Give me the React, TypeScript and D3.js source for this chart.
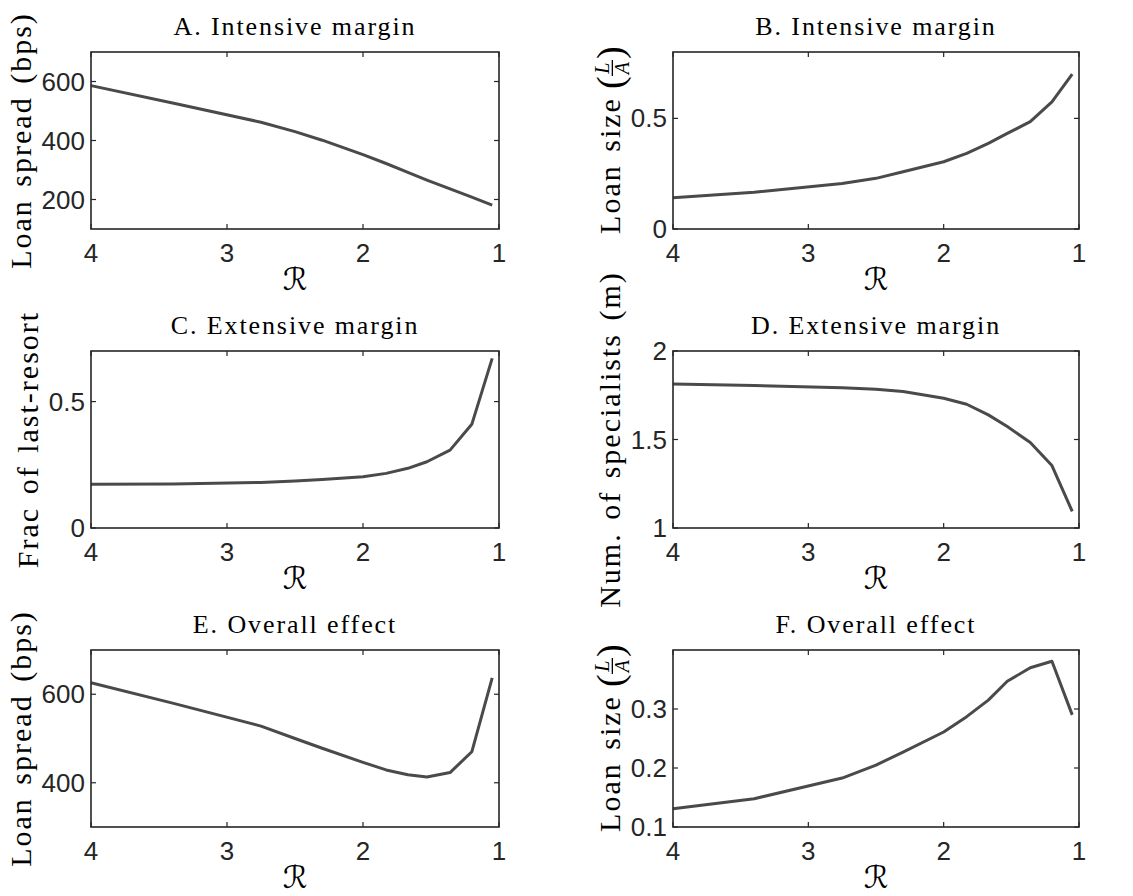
import React, { useRef, useEffect } from 'react';
import * as d3 from 'd3';

// R grid shared by all panels
const rValues = [4, 3.4, 2.75, 2.5, 2.3, 2.0, 1.83, 1.67, 1.53, 1.36, 1.2, 1.05];

const spreadIntensive = [586, 527, 462, 430, 401, 352, 322, 292, 266, 236, 208, 181];
const sizeIntensive = [0.141, 0.166, 0.206, 0.229, 0.259, 0.304, 0.342, 0.387, 0.432, 0.485, 0.575, 0.70];
const fracLastResort = [0.173, 0.174, 0.18, 0.186, 0.192, 0.203, 0.216, 0.236, 0.262, 0.308, 0.41, 0.671];
const numSpecialists = [1.814, 1.805, 1.793, 1.784, 1.771, 1.733, 1.699, 1.639, 1.573, 1.483, 1.353, 1.094];
const spreadOverall = [626, 580, 528, 500, 478, 446, 429, 418, 413, 423, 470, 637];
const sizeOverall = [0.131, 0.148, 0.183, 0.205, 0.227, 0.261, 0.287, 0.315, 0.347, 0.370, 0.381, 0.290];

const xTicks = [4, 3, 2, 1];

const titles = [
  'A. Intensive margin', 'B. Intensive margin',
  'C. Extensive margin', 'D. Extensive margin',
  'E. Overall effect', 'F. Overall effect',
];
const yLabels = [
  'Loan spread (bps)', 'Loan size',
  'Frac of last-resort', 'Num. of specialists (m)',
  'Loan spread (bps)', 'Loan size',
];
const yDomains: [number, number][] = [
  [100, 700], [0, 0.8],
  [0, 0.7], [1, 2],
  [300, 700], [0.1, 0.4],
];
const yTicks = [
  [200, 400, 600], [0, 0.5],
  [0, 0.5], [1, 1.5, 2],
  [400, 600], [0.1, 0.2, 0.3],
];
const series = [spreadIntensive, sizeIntensive, fracLastResort, numSpecialists, spreadOverall, sizeOverall];
const hasFraction = [false, true, false, false, false, true];

const App = () => {
  const svgRef = useRef<SVGSVGElement>(null);

  useEffect(() => {
    const width = 1133;
    const height = 896;
    const svg = d3.select(svgRef.current);
    svg.selectAll('*').remove();
    svg.attr('width', width).attr('height', height);

    const colLeft = [91, 673];
    const boxW = [408, 406];
    const rowTop = [52, 351, 650];
    const boxH = 177;
    const axisColor = '#262626';
    const lineColor = '#4a4a4a';
    const serif = '"Liberation Serif", "Times New Roman", serif';
    const sans = '"Liberation Sans", Arial, sans-serif';

    series.forEach((vals, i) => {
      const col = i % 2;
      const row = Math.floor(i / 2);
      const left = colLeft[col];
      const top = rowTop[row];
      const w = boxW[col];

      const g = svg.append('g').attr('transform', `translate(${left},${top})`);
      const x = d3.scaleLinear().domain([4, 1]).range([0, w]);
      const y = d3.scaleLinear().domain(yDomains[i]).range([boxH, 0]);

      // data line
      const line = d3.line<number>()
        .x((_, k) => x(rValues[k]))
        .y(d => y(d));
      g.append('path')
        .datum(vals)
        .attr('fill', 'none')
        .attr('stroke', lineColor)
        .attr('stroke-width', 3)
        .attr('stroke-linejoin', 'round')
        .attr('d', line);

      // box
      g.append('rect')
        .attr('width', w).attr('height', boxH)
        .attr('fill', 'none')
        .attr('stroke', axisColor)
        .attr('stroke-width', 1.6);

      // inward ticks on all four sides
      const tl = 5;
      xTicks.forEach(t => {
        const px = x(t);
        g.append('line').attr('x1', px).attr('x2', px).attr('y1', boxH).attr('y2', boxH - tl)
          .attr('stroke', axisColor).attr('stroke-width', 1.2);
        g.append('line').attr('x1', px).attr('x2', px).attr('y1', 0).attr('y2', tl)
          .attr('stroke', axisColor).attr('stroke-width', 1.2);
        g.append('text')
          .attr('x', px).attr('y', boxH + 33)
          .attr('text-anchor', 'middle')
          .attr('font-family', sans).attr('font-size', 26)
          .attr('fill', axisColor)
          .text(d3.format('~g')(t));
      });

      let maxTickW = 0;
      yTicks[i].forEach(t => {
        const py = y(t);
        g.append('line').attr('x1', 0).attr('x2', tl).attr('y1', py).attr('y2', py)
          .attr('stroke', axisColor).attr('stroke-width', 1.2);
        g.append('line').attr('x1', w).attr('x2', w - tl).attr('y1', py).attr('y2', py)
          .attr('stroke', axisColor).attr('stroke-width', 1.2);
        const txt = g.append('text')
          .attr('x', -6).attr('y', py + 9)
          .attr('text-anchor', 'end')
          .attr('font-family', sans).attr('font-size', 26)
          .attr('fill', axisColor)
          .text(d3.format('~g')(t));
        const tw = (txt.node() as SVGTextElement).getComputedTextLength();
        maxTickW = Math.max(maxTickW, tw);
      });

      // title
      g.append('text')
        .attr('x', w / 2).attr('y', -17)
        .attr('text-anchor', 'middle')
        .attr('font-family', serif).attr('font-size', 26)
        .attr('letter-spacing', 1.9)
        .attr('fill', '#000')
        .text(titles[i]);

      // x label (script R)
      g.append('text')
        .attr('x', w / 2).attr('y', boxH + 61)
        .attr('text-anchor', 'middle')
        .attr('font-family', '"DejaVu Serif", "DejaVu Sans", serif')
        .attr('font-size', 31)
        .attr('fill', '#000')
        .text('\u211B');

      // y label, rotated
      const labelX = -maxTickW - 17;
      const yl = g.append('g')
        .attr('transform', `translate(${labelX},${boxH / 2}) rotate(-90)`);
      const main = yl.append('text')
        .attr('font-family', serif).attr('font-size', 30)
        .attr('letter-spacing', 2)
        .attr('word-spacing', 3)
        .attr('fill', '#000')
        .text(yLabels[i]);
      const mainW = (main.node() as SVGTextElement).getComputedTextLength();
      if (!hasFraction[i]) {
        main.attr('text-anchor', 'middle');
      } else {
        // "Loan size (L/A)" with a stacked fraction
        const parenW = 12;
        const fracW = 18;
        const total = mainW + 8 + parenW + fracW + parenW;
        let cx = -total / 2;
        main.attr('x', cx);
        cx += mainW + 8;
        yl.append('text').attr('x', cx).attr('y', 3)
          .attr('font-family', serif).attr('font-size', 38).attr('fill', '#000')
          .text('(');
        cx += parenW;
        yl.append('text').attr('x', cx + fracW / 2).attr('y', -11)
          .attr('text-anchor', 'middle')
          .attr('font-family', serif).attr('font-style', 'italic').attr('font-size', 20)
          .attr('fill', '#000').text('L');
        yl.append('line').attr('x1', cx + 1).attr('x2', cx + fracW - 1)
          .attr('y1', -7.5).attr('y2', -7.5)
          .attr('stroke', '#000').attr('stroke-width', 1.3);
        yl.append('text').attr('x', cx + fracW / 2).attr('y', 9)
          .attr('text-anchor', 'middle')
          .attr('font-family', serif).attr('font-style', 'italic').attr('font-size', 20)
          .attr('fill', '#000').text('A');
        cx += fracW;
        yl.append('text').attr('x', cx).attr('y', 3)
          .attr('font-family', serif).attr('font-size', 38).attr('fill', '#000')
          .text(')');
      }
    });
  }, []);

  return (
    <svg
      ref={svgRef}
      style={{ position: 'absolute', left: 0, top: 0, display: 'block', background: '#fff' }}
    />
  );
};

export default App;
